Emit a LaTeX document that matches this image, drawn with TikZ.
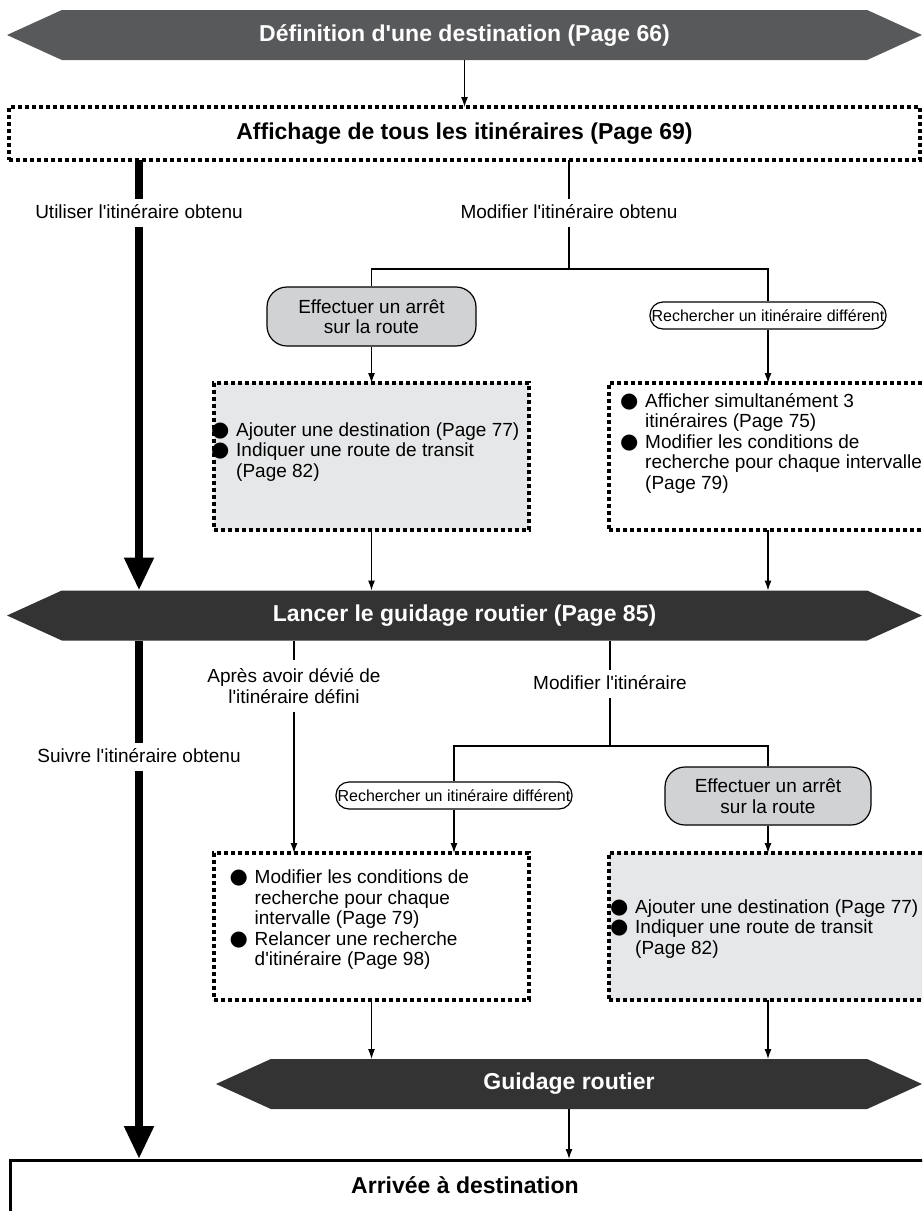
\documentclass[tikz,border=0pt]{standalone}
\usepackage{fontspec}
\setmainfont{Liberation Sans}[Ligatures=TeXOff]
\newfontfamily\bltfont{DejaVu Sans}
\usetikzlibrary{shapes.symbols,arrows.meta,positioning}

\definecolor{bantop}{HTML}{58595B}
\definecolor{bandark}{HTML}{333333}
\definecolor{boxgray}{HTML}{E6E7E8}
\definecolor{stopgray}{HTML}{D1D2D4}

\newcommand\hdfont{\fontsize{23}{25}\selectfont\bfseries}
\newcommand\bdfont{\fontsize{19}{20.5}\selectfont}
\newcommand\smfont{\fontsize{16}{17}\selectfont}
\newcommand\blt{\makebox[25pt][l]{\bltfont\fontsize{21}{20.5}\selectfont ●}}
\newcommand\ind{\hspace*{25pt}}

\begin{document}
\begin{tikzpicture}[x=1pt, y=-1pt,
    banner/.style={signal, signal to=west and east, signal pointer angle=49,
      fill=#1, text=white, font=\hdfont, minimum height=50pt, inner sep=0pt, outer sep=0pt},
    dotbox/.style={draw, line width=3.5pt, dash pattern=on 4pt off 3pt, fill=#1,
      inner sep=0pt, outer sep=0pt},
    dotbox/.default=white,
    stopnode/.style={draw, line width=1.2pt, fill=stopgray, rounded corners=20pt,
      align=center, font=\bdfont, minimum width=209pt, minimum height=59pt, inner sep=0pt},
    rechnode/.style={draw, line width=1.2pt, fill=white, rounded corners=13pt,
      font=\smfont, minimum width=236pt, minimum height=27pt, inner sep=0pt},
    lbl/.style={font=\bdfont, align=center, inner sep=5pt, text height=14pt, text depth=4pt},
    lbltwo/.style={font=\bdfont, align=center, inner sep=8pt},
    items/.style={font=\bdfont, align=left, anchor=west, inner sep=0pt},
    conn/.style={line width=1.2pt},
    arr/.style={conn, -{Latex[length=10pt, width=7pt]}},
    bigarr/.style={line width=8pt, -{Triangle[length=33pt, width=28pt]}}
  ]
  \useasboundingbox (0,0) rectangle (922,1211);
  \clip (0,0) rectangle (922,1211);

  % top part
  \node[banner=bantop, minimum width=915pt] (def) at (464.5,35) {Définition d'une destination (Page 66)};
  \node[dotbox, minimum width=911pt, minimum height=53pt, font=\hdfont] (aff) at (464.5,133.5)
    {Affichage de tous les itinéraires (Page 69)};
  \node[lbl] (use) at (139,213) {Utiliser l'itinéraire obtenu};
  \node[lbl] (mod1) at (569,213) {Modifier l'itinéraire obtenu};
  \coordinate (br1) at (569,269);
  \node[stopnode] (stop1) at (371.5,316.5) {Effectuer un arrêt\\sur la route};
  \node[rechnode] (rech1) at (768,315.5) {Rechercher un itinéraire différent};
  \node[dotbox=boxgray, minimum width=315pt, minimum height=147pt] (box1) at (371.5,456.5) {};
  \node[dotbox, minimum width=321pt, minimum height=147pt] (box2) at (769.5,456.5) {};
  \node[items] (t1) at (211,452) {\blt Ajouter une destination (Page 77)\\
    \blt Indiquer une route de transit\\\ind (Page 82)};
  \node[items] (t2) at (620,443) {\blt Afficher simultanément 3\\\ind itinéraires (Page 75)\\
    \blt Modifier les conditions de\\\ind recherche pour chaque intervalle\\\ind (Page 79)};

  % guidage
  \node[banner=bandark, minimum width=915pt] (lanc) at (464.5,615.5) {Lancer le guidage routier (Page 85)};
  \node[lbl] (suiv) at (139,757) {Suivre l'itinéraire obtenu};
  \node[lbltwo] (aprs) at (294,686) {Après avoir dévié de\\l'itinéraire défini};
  \node[lbl] (mod2) at (610,684) {Modifier l'itinéraire};
  \coordinate (br2) at (610,746);
  \node[rechnode] (rech2) at (454,795.5) {Rechercher un itinéraire différent};
  \node[stopnode, minimum width=206pt, minimum height=58pt] (stop2) at (768,796) {Effectuer un arrêt\\sur la route};
  \node[dotbox, minimum width=315pt, minimum height=147pt] (box3) at (371.5,926.5) {};
  \node[dotbox=boxgray, minimum width=321pt, minimum height=147pt] (box4) at (769.5,926.5) {};
  \node[items] (t3) at (229.5,920) {\blt Modifier les conditions de\\\ind recherche pour chaque\\
    \ind intervalle (Page 79)\\\blt Relancer une recherche\\\ind d'itinéraire (Page 98)};
  \node[items] (t4) at (610,929) {\blt Ajouter une destination (Page 77)\\
    \blt Indiquer une route de transit\\\ind (Page 82)};
  \node[banner=bandark, minimum width=706pt] (guid) at (569,1084) {Guidage routier};
  \node[draw, line width=2.5pt, minimum width=926pt, minimum height=56pt, anchor=north west,
    inner sep=0pt] (arr) at (9,1159) {};
  \node[font=\hdfont] (arrt) at (465,1185) {Arrivée à destination};

  % connectors
  \draw[arr] (def.south) -- (aff.north);
  \draw[line width=8pt] (aff.south -| use) -- (use.north);
  \draw[bigarr] (use.south) -- (lanc.north -| use);
  \draw[conn] (aff.south -| mod1) -- (mod1.north);
  \draw[conn] (mod1.south) -- (br1);
  \draw[conn] (br1) -| (stop1.north);
  \draw[conn] (br1) -| (rech1.north);
  \draw[arr] (stop1.south) -- (box1.north);
  \draw[arr] (rech1.south) -- (box2.north -| rech1);
  \draw[arr] (box1.south) -- (lanc.north -| box1);
  \draw[arr] (box2.south -| rech1) -- (lanc.north -| rech1);

  \draw[line width=8pt] (lanc.south -| suiv) -- (suiv.north);
  \draw[bigarr] (suiv.south) -- (arr.north -| suiv);
  \draw[conn] (lanc.south -| aprs) -- (aprs.north);
  \draw[arr] (aprs.south) -- (box3.north -| aprs);
  \draw[conn] (lanc.south -| mod2) -- (mod2.north);
  \draw[conn] (mod2.south) -- (br2);
  \draw[conn] (br2) -| (rech2.north);
  \draw[conn] (br2) -| (stop2.north);
  \draw[arr] (rech2.south) -- (box3.north -| rech2);
  \draw[arr] (stop2.south) -- (box4.north -| stop2);
  \draw[arr] (box3.south) -- (guid.north -| box3);
  \draw[arr] (box4.south -| stop2) -- (guid.north -| stop2);
  \draw[arr] (guid.south) -- (arr.north -| guid);
\end{tikzpicture}
\end{document}
